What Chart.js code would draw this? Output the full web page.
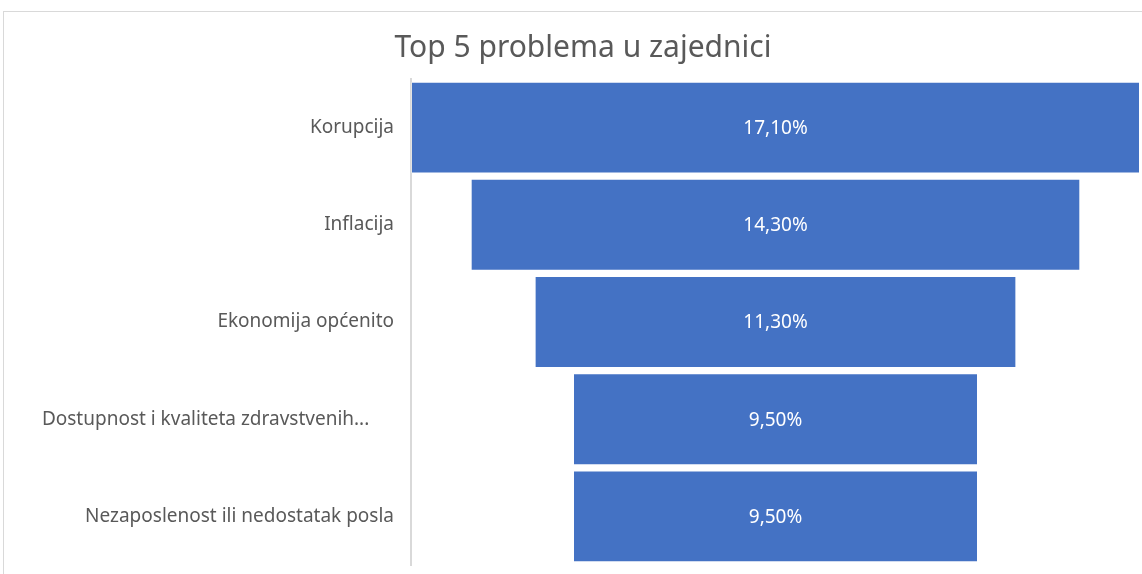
<!DOCTYPE html>
<html>
<head>
<meta charset="utf-8">
<script src="https://cdn.jsdelivr.net/npm/chart.js@4"></script>
<style>
    html, body { margin: 0; padding: 0; background: #ffffff; }
    #wrap { position: relative; width: 1142px; height: 574px; overflow: hidden; }
    #frame { position: absolute; left: 3px; top: 11px; width: 1200px; height: 600px;
             border-top: 1px solid #d9d9d9; border-left: 1px solid #d9d9d9; }
    #chart-funnel { position: absolute; left: 0; top: 0; }
</style>
</head>
<body>
<div id="wrap">
    <div id="frame"></div>
    <canvas id="chart-funnel" width="1142" height="574"></canvas>
</div>
<script>
// 데이터
const categories = [
    'Korupcija',
    'Inflacija',
    'Ekonomija općenito',
    'Dostupnost i kvaliteta zdravstvenih...     ',
    'Nezaposlenost ili nedostatak posla'
];
const shares = [17.1, 14.3, 11.3, 9.5, 9.5];
const chartTitle = 'Top 5 problema u zajednici';

const FONT = "'Noto Sans', sans-serif";
const maxShare = Math.max(...shares);

// 퍼널: 가운데 정렬된 floating bar
const funnelData = shares.map(v => [(maxShare - v) / 2, (maxShare + v) / 2]);

const fmtPct = v => v.toFixed(2).replace('.', ',') + '%';

// 막대 안에 값 표시
const barLabels = {
    id: 'barLabels',
    afterDatasetsDraw(chart) {
        const { ctx } = chart;
        const meta = chart.getDatasetMeta(0);
        ctx.save();
        ctx.fillStyle = '#ffffff';
        ctx.font = `19px ${FONT}`;
        ctx.textAlign = 'center';
        ctx.textBaseline = 'middle';
        meta.data.forEach((bar, i) => {
            const cx = (bar.x + bar.base) / 2;
            ctx.fillText(fmtPct(shares[i]), cx, bar.y + 1);
        });
        ctx.restore();
    }
};

new Chart(document.getElementById('chart-funnel'), {
    type: 'bar',
    data: {
        labels: categories,
        datasets: [{
            data: funnelData,
            backgroundColor: '#4472c4',
            borderColor: 'rgba(255,255,255,0.3)',
            borderWidth: 1,
            borderSkipped: false,
            barPercentage: 0.945,
            categoryPercentage: 1
        }]
    },
    options: {
        indexAxis: 'y',
        responsive: false,
        animation: false,
        layout: { padding: { left: 26, right: 2, bottom: 9 } },
        plugins: {
            legend: { display: false },
            tooltip: { enabled: false },
            title: {
                display: true,
                text: chartTitle,
                color: '#595959',
                font: { family: FONT, size: 30, weight: 'normal', lineHeight: 1.2 },
                padding: { top: 30, bottom: 13 }
            }
        },
        scales: {
            x: { display: false, min: 0, max: maxShare },
            y: {
                afterFit: s => { s.width = 385; s.paddingTop = 0; s.paddingBottom = 0; },
                grid: { display: false, drawTicks: false },
                border: { display: true, color: '#d9d9d9', width: 2 },
                ticks: { color: '#595959', padding: 17, font: { family: FONT, size: 19 } }
            }
        }
    },
    plugins: [barLabels]
});
</script>
</body>
</html>
